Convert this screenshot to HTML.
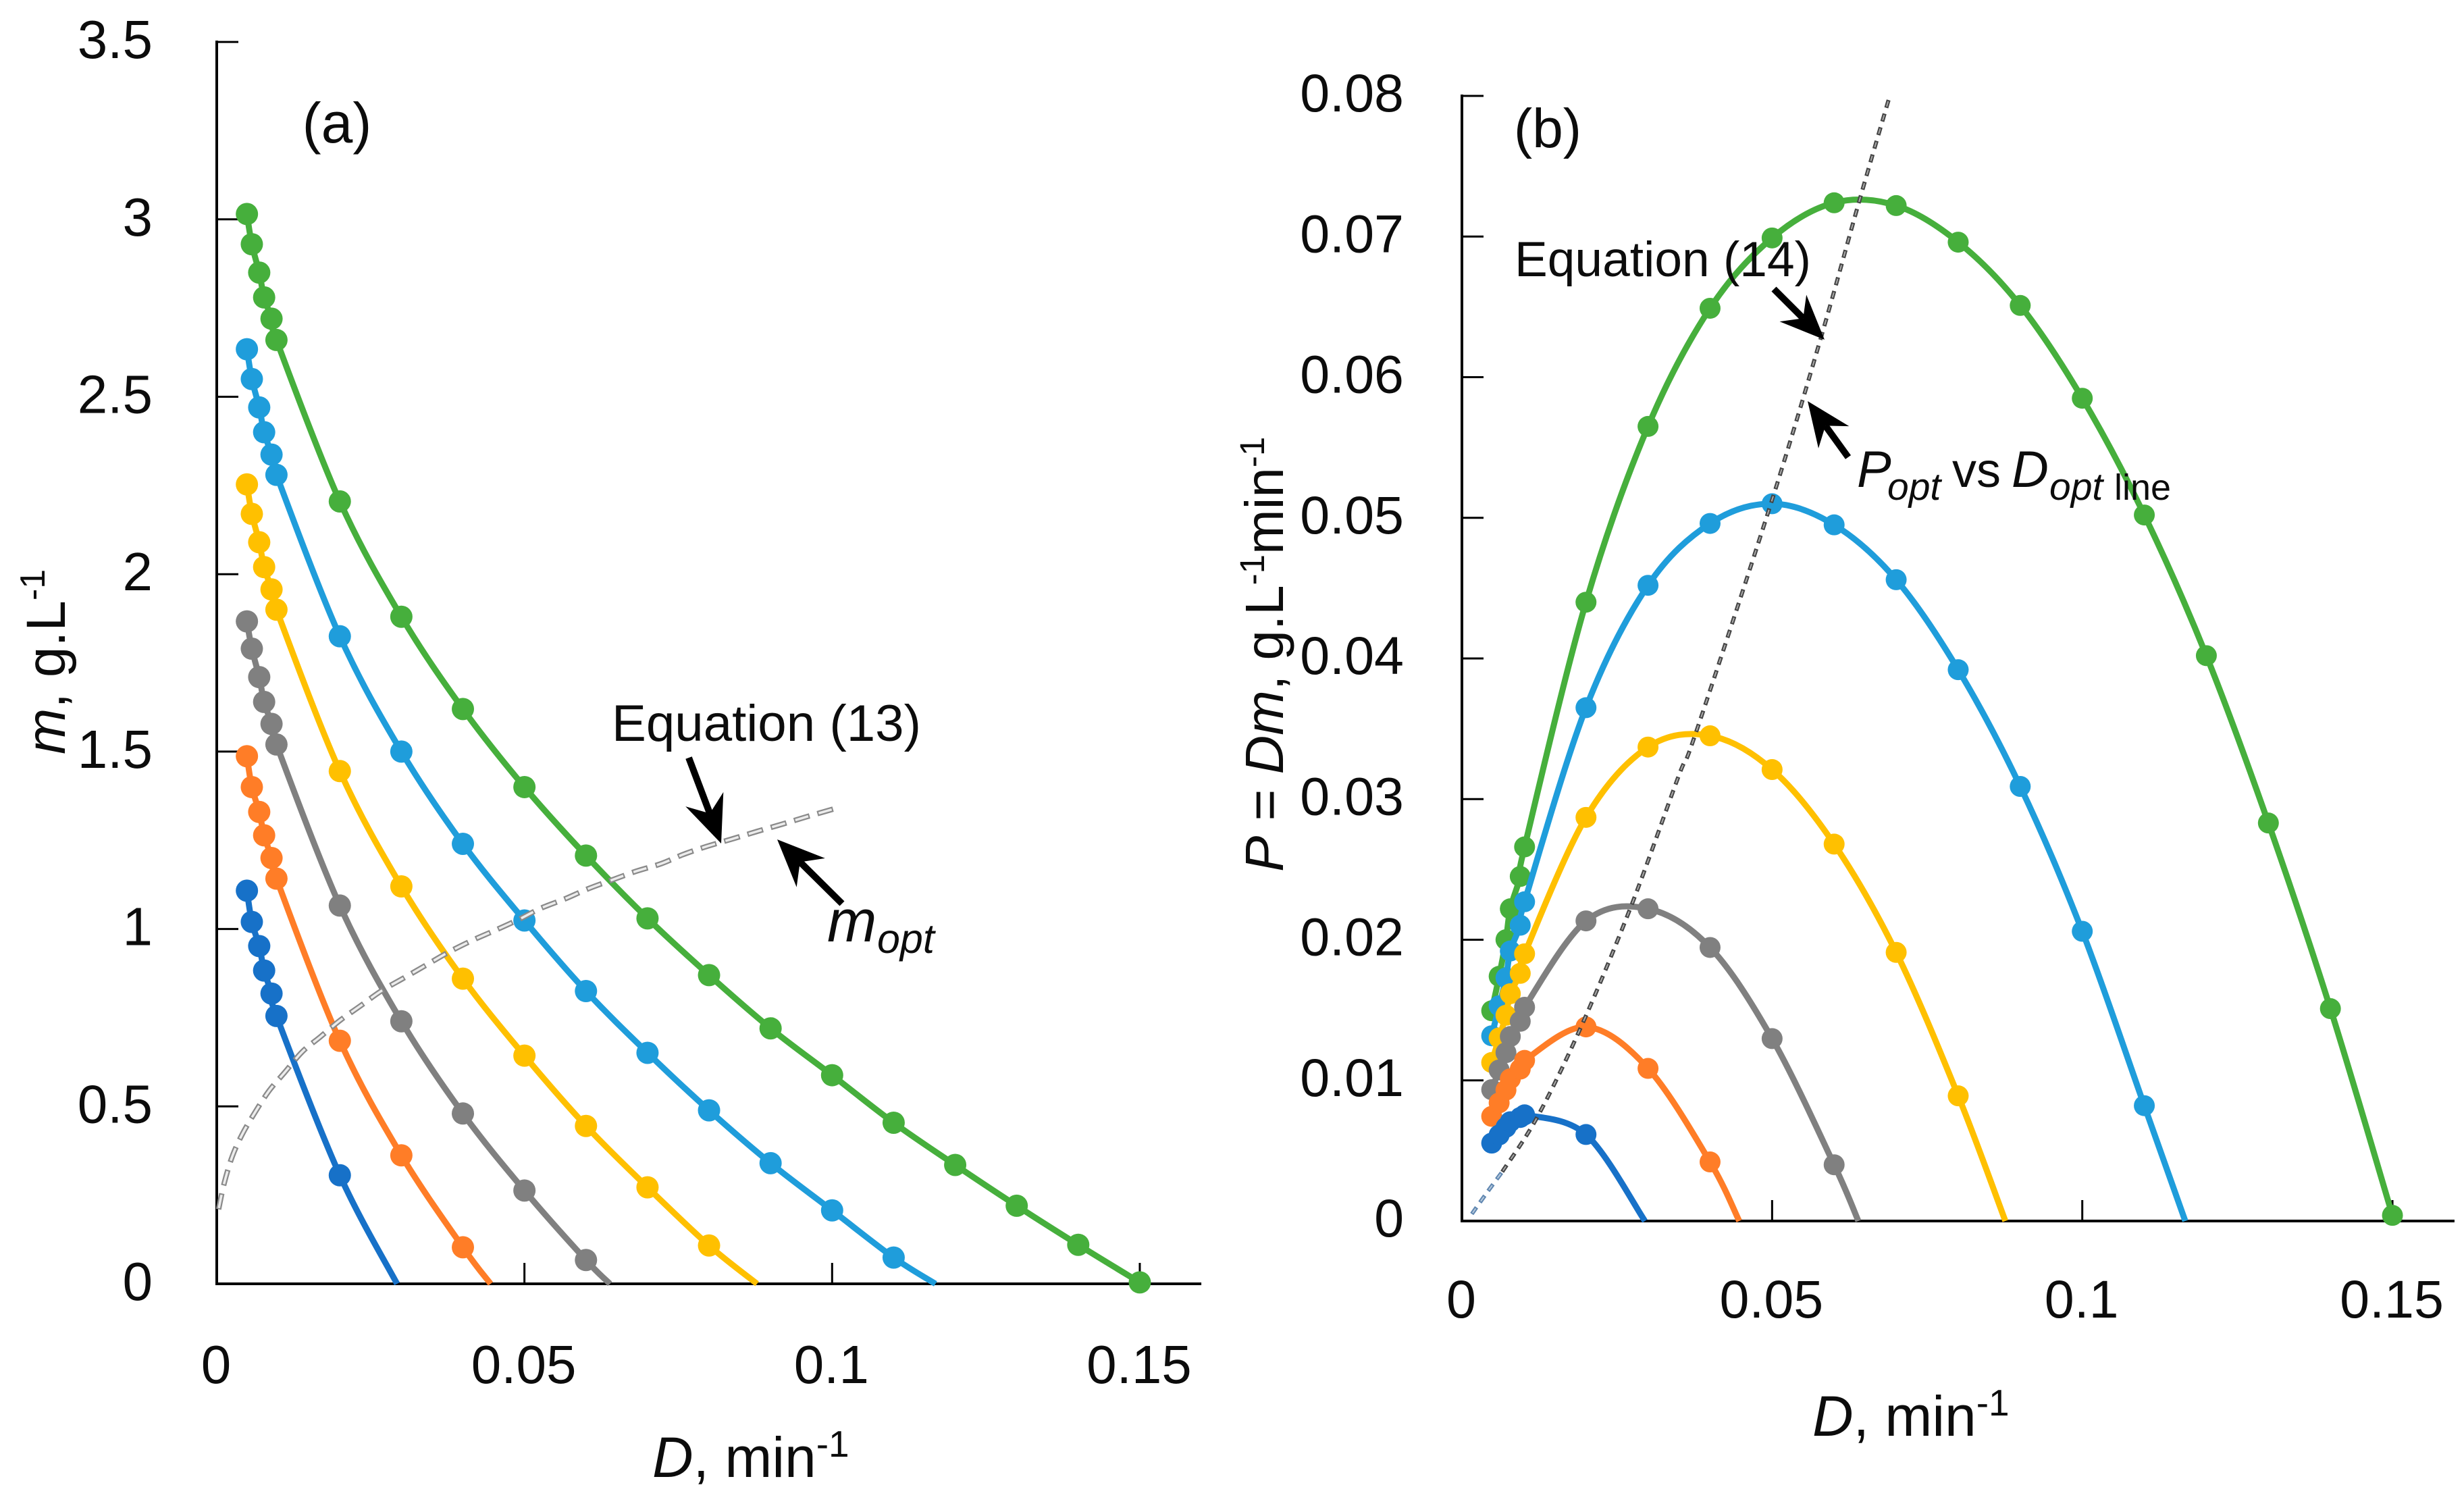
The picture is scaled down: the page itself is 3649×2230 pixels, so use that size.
<!DOCTYPE html>
<html lang="en">
<head>
<meta charset="utf-8">
<title>Productivity and biomass vs dilution rate</title>
<style>
html,body{margin:0;padding:0;background:#fff;}
svg{display:block;}
text{font-family:"Liberation Sans",sans-serif;fill:#0c0c0c;}
</style>
</head>
<body>
<svg id="chart" xmlns="http://www.w3.org/2000/svg" width="3649" height="2230" viewBox="0 0 3649 2230">
  <rect width="3649" height="2230" fill="#fff"/>
  <g id="panelA"></g>
  <g id="panelB"></g>

  <text x="499" y="211" font-size="84" text-anchor="middle">(a)</text>
  <text x="906" y="1097" font-size="76" textLength="458" lengthAdjust="spacingAndGlyphs">Equation (13)</text>
  <text x="1225" y="1394" font-size="88" font-style="italic">m<tspan x="1299" y="1411" font-size="61">opt</tspan></text>
  <text x="966" y="2187" font-size="84"><tspan font-style="italic">D</tspan>, min<tspan font-size="55" dy="-30">-1</tspan></text>
  <text transform="translate(96,1117) rotate(-90)" font-size="82"><tspan font-style="italic">m</tspan>, g.L<tspan font-size="52" dy="-30">-1</tspan></text>

  <text x="2292" y="218" font-size="82" text-anchor="middle">(b)</text>
  <text x="2243" y="409" font-size="73" textLength="439" lengthAdjust="spacingAndGlyphs">Equation (14)</text>
  <text y="721" font-size="76"><tspan x="2750" font-style="italic">P</tspan><tspan x="2795" y="740" font-size="57" font-style="italic">opt</tspan><tspan x="2891" y="721" font-size="72">vs</tspan><tspan x="2979" y="721" font-style="italic">D</tspan><tspan x="3035" y="740" font-size="57" font-style="italic">opt</tspan><tspan x="3131" y="740" font-size="54">line</tspan></text>
  <text x="2684" y="2126" font-size="84"><tspan font-style="italic">D</tspan>, min<tspan font-size="55" dy="-30">-1</tspan></text>
  <text transform="translate(1900,1291) rotate(-90)" font-size="80"><tspan font-style="italic">P</tspan> = <tspan font-style="italic">Dm</tspan>, g.L<tspan font-size="51" dy="-28">-1</tspan><tspan dy="28">min</tspan><tspan font-size="51" dy="-28">-1</tspan></text>
</svg>

<script>
// ---------- Panel (a): biomass m vs D ----------
const aXTickLabels = ["0", "0.05", "0.1", "0.15"];
const aYTickLabels = ["0", "0.5", "1", "1.5", "2", "2.5", "3", "3.5"];
const aLowD = [0.0049, 0.0057, 0.0069, 0.0077, 0.0089, 0.0097];
const aHighD = [0.02, 0.03, 0.04, 0.05, 0.06, 0.07, 0.08, 0.09, 0.10, 0.11, 0.12, 0.13, 0.14, 0.15];

const mGreen = [3.015, 2.93, 2.85, 2.78, 2.72, 2.66, 2.205, 1.88, 1.62, 1.40, 1.207, 1.03, 0.87, 0.72, 0.588, 0.454, 0.335, 0.22, 0.11, 0.004];
const mSky = [2.634, 2.55, 2.47, 2.40, 2.337, 2.28, 1.825, 1.50, 1.24, 1.024, 0.825, 0.651, 0.489, 0.34, 0.207, 0.074];
const mYellow = [2.253, 2.17, 2.09, 2.02, 1.957, 1.90, 1.445, 1.12, 0.86, 0.643, 0.445, 0.272, 0.108];
const mGray = [1.867, 1.79, 1.71, 1.64, 1.578, 1.52, 1.066, 0.74, 0.48, 0.263, 0.067];
const mOrange = [1.487, 1.40, 1.33, 1.264, 1.20, 1.142, 0.685, 0.362, 0.103];
const mBlue = [1.108, 1.02, 0.952, 0.883, 0.818, 0.755, 0.306];

const mOptD = [0.0003, 0.0012, 0.0025, 0.0041, 0.0061, 0.0085, 0.011, 0.0139, 0.0169, 0.02, 0.0234, 0.0267, 0.0304, 0.034, 0.0375, 0.0414, 0.0452, 0.0491, 0.0526, 0.0566, 0.0603, 0.0642, 0.0682, 0.0722, 0.0758, 0.0795, 0.0838, 0.0878, 0.0918, 0.0958, 0.1010];
const mOptValues = [0.21, 0.283, 0.358, 0.42, 0.48, 0.544, 0.595, 0.654, 0.697, 0.742, 0.784, 0.825, 0.862, 0.898, 0.933, 0.967, 0.996, 1.027, 1.058, 1.085, 1.113, 1.138, 1.163, 1.184, 1.21, 1.232, 1.254, 1.275, 1.295, 1.316, 1.342];

// ---------- Panel (b): productivity P vs D ----------
const bXTickLabels = ["0", "0.05", "0.1", "0.15"];
const bYTickLabels = ["0", "0.01", "0.02", "0.03", "0.04", "0.05", "0.06", "0.07", "0.08"];
const bLowD = [0.0048, 0.006, 0.0071, 0.0078, 0.0094, 0.0101];
const bHighD = [0.02, 0.03, 0.04, 0.05, 0.06, 0.07, 0.08, 0.09, 0.10, 0.11, 0.12, 0.13, 0.14, 0.15];

const pGreen = [0.01495, 0.0174, 0.0200, 0.0222, 0.0245, 0.0266, 0.0440, 0.0565, 0.0649, 0.0699, 0.0724, 0.0722, 0.0696, 0.0651, 0.0585, 0.0502, 0.0402, 0.0283, 0.0151, 0.0004];
const pSky = [0.01317, 0.0153, 0.01729, 0.0192, 0.02103, 0.0227, 0.0365, 0.0452, 0.0496, 0.0510, 0.0495, 0.0456, 0.0392, 0.0309, 0.0206, 0.0082];
const pYellow = [0.01127, 0.01302, 0.01463, 0.01616, 0.01761, 0.0190, 0.0287, 0.0337, 0.0345, 0.0321, 0.0268, 0.0191, 0.0089];
const pGray = [0.00934, 0.01074, 0.01197, 0.01312, 0.0142, 0.0152, 0.02134, 0.0222, 0.01945, 0.01297, 0.0040];
const pOrange = [0.00744, 0.0084, 0.00931, 0.01011, 0.0108, 0.01142, 0.0138, 0.01085, 0.0042];
const pBlue = [0.00554, 0.00612, 0.00666, 0.00706, 0.00736, 0.00755, 0.00615];

const pOptD = [0.0065, 0.01216, 0.0192, 0.0272, 0.0349, 0.0377, 0.0498, 0.0578, 0.0641, 0.0689];
const pOptValues = [0.0035, 0.0074, 0.0138, 0.0223, 0.0316, 0.0347, 0.0510, 0.0627, 0.0726, 0.0799];
const pOptLowD = [0.0016, 0.004, 0.0065];
const pOptLowValues = [0.0005, 0.002, 0.0035];

// Where each curve that ends between markers meets the x-axis
const crossingA = { sky: 0.1168, yellow: 0.0878, gray: 0.0639, orange: 0.0445, blue: 0.0293 };
const crossingB = { sky: 0.1166, yellow: 0.0876, gray: 0.0639, orange: 0.0447, blue: 0.0295 };

// Series colours
const colours = { green: "#46AF3C", sky: "#1F9DDB", yellow: "#FFC000", gray: "#808080", orange: "#FF7D27", blue: "#1771C8" };

// ---------- Axis functions ----------
function axA_x(d) { return 321 + d * 9113; }
function axA_y(v) { return 1901 - v * 525.4; }
function axB_x(d) { return 2165 + d * 9187; }
function axB_y(v) { return 1808 - v * 20825; }

const NS = "http://www.w3.org/2000/svg";
function mk(parent, tag, attrs) {
  const el = document.createElementNS(NS, tag);
  for (const k in attrs) el.setAttribute(k, attrs[k]);
  parent.appendChild(el);
  return el;
}

function smoothPath(pts) {
  let d = "M" + pts[0][0].toFixed(2) + " " + pts[0][1].toFixed(2);
  for (let i = 0; i < pts.length - 1; i++) {
    const p0 = pts[Math.max(i - 1, 0)], p1 = pts[i], p2 = pts[i + 1], p3 = pts[Math.min(i + 2, pts.length - 1)];
    const c1x = p1[0] + (p2[0] - p0[0]) / 6, c1y = p1[1] + (p2[1] - p0[1]) / 6;
    const c2x = p2[0] - (p3[0] - p1[0]) / 6, c2y = p2[1] - (p3[1] - p1[1]) / 6;
    d += "C" + c1x.toFixed(2) + " " + c1y.toFixed(2) + " " + c2x.toFixed(2) + " " + c2y.toFixed(2) + " " + p2[0].toFixed(2) + " " + p2[1].toFixed(2);
  }
  return d;
}

function drawAxes(g, fx, fy, xLabels, yLabels, xMax, yTop, xBaseline, yLabelRight, yOffset, fontSize) {
  const axisY = mk(g, "line", { x1: fx(0), x2: fx(0), y1: fy(yTop) - 2, y2: fy(0) + 2, stroke: "#000", "stroke-width": 4 });
  
  
  const axisX = mk(g, "line", { x1: fx(0) - 2, x2: fx(xMax), y1: fy(0), y2: fy(0), stroke: "#000", "stroke-width": 4 });
  
  
  yLabels.forEach(function (lab) {
    const v = Number(lab);
    if (v > 0) {
      const t = mk(g, "line", { x1: fx(0), x2: fx(0) + 32, y1: fy(v), y2: fy(v), stroke: "#000", "stroke-width": 3 });
      
      
    }
    const tx = mk(g, "text", { x: yLabelRight, y: fy(v) + yOffset, "font-size": fontSize, "text-anchor": "end" });
    tx.textContent = lab;
    
    
  });
  xLabels.forEach(function (lab) {
    const v = Number(lab);
    if (v > 0) {
      const t = mk(g, "line", { x1: fx(v), x2: fx(v), y1: fy(0), y2: fy(0) - 31, stroke: "#000", "stroke-width": 3 });
      
      
    }
    const tx = mk(g, "text", { x: fx(v) - 1, y: xBaseline, "font-size": fontSize, "text-anchor": "middle" });
    tx.textContent = lab;
    
    
  });
}

function drawSeries(g, name, vals, lowD, highD, crossD, colour, fx, fy, r) {
  const ds = lowD.concat(highD).slice(0, vals.length);
  const pts = vals.map(function (v, i) { return [fx(ds[i]), fy(v)]; });
  const linePts = pts.slice();
  if (crossD !== undefined) linePts.push([fx(crossD), fy(0)]);
  const s = mk(g, "g", {});
  
  
  const l = mk(s, "path", { d: smoothPath(linePts), fill: "none", stroke: colour, "stroke-width": 9 });
  
  
  pts.forEach(function (p) {
    const c = mk(s, "circle", { cx: p[0], cy: p[1], r: r, fill: colour });
    
    
  });
}

function drawHollowDash(g, name, ds, vs, fx, fy, outer, inner, w, iw, dash, gap) {
  const pts = ds.map(function (d, i) { return [fx(d), fy(vs[i])]; });
  const path = smoothPath(pts);
  const a = mk(g, "path", { d: path, fill: "none", stroke: outer, "stroke-width": w, "stroke-dasharray": dash + " " + gap });
  
  
  const b = mk(g, "path", { d: path, fill: "none", stroke: inner, "stroke-width": iw, "stroke-dasharray": (dash - 4) + " " + (gap + 4), "stroke-dashoffset": -2 });
  
  
}

function drawArrow(g, name, x1, y1, x2, y2, headLen, headW, sw) {
  const dx = x2 - x1, dy = y2 - y1, L = Math.hypot(dx, dy), ux = dx / L, uy = dy / L, nx = -uy, ny = ux;
  const bx = x2 - ux * headLen, by = y2 - uy * headLen;
  const nk = x2 - ux * headLen * 0.68, nky = y2 - uy * headLen * 0.68;
  const a = mk(g, "g", {});
  
  
  mk(a, "line", { x1: x1, y1: y1, x2: nk, y2: nky, stroke: "#000", "stroke-width": sw });
  const head = [[x2, y2], [bx + nx * headW / 2, by + ny * headW / 2], [nk, nky], [bx - nx * headW / 2, by - ny * headW / 2]];
  mk(a, "polygon", { points: head.map(function (p) { return p[0].toFixed(1) + "," + p[1].toFixed(1); }).join(" "), fill: "#000" });
}

// ---------- Render panel (a) ----------
const gA = document.getElementById("panelA");
drawAxes(gA, axA_x, axA_y, aXTickLabels, aYTickLabels, 0.16, 3.5, 2048, 226, 24, 80);
drawSeries(gA, "green", mGreen, aLowD, aHighD, undefined, colours.green, axA_x, axA_y, 16.5);
drawSeries(gA, "sky-blue", mSky, aLowD, aHighD, crossingA.sky, colours.sky, axA_x, axA_y, 16.5);
drawSeries(gA, "yellow", mYellow, aLowD, aHighD, crossingA.yellow, colours.yellow, axA_x, axA_y, 16.5);
drawSeries(gA, "gray", mGray, aLowD, aHighD, crossingA.gray, colours.gray, axA_x, axA_y, 16.5);
drawSeries(gA, "orange", mOrange, aLowD, aHighD, crossingA.orange, colours.orange, axA_x, axA_y, 16.5);
drawSeries(gA, "dark-blue", mBlue, aLowD, aHighD, crossingA.blue, colours.blue, axA_x, axA_y, 16.5);
drawHollowDash(gA, "m-opt-dashed-line", mOptD, mOptValues, axA_x, axA_y, "#8a8a8a", "#ececec", 8, 3.5, 24, 12);
drawArrow(gA, "equation-13-arrow", 1020, 1122, 1068, 1249, 70, 60, 10);
drawArrow(gA, "m-opt-arrow", 1247, 1338, 1151, 1243, 70, 60, 10);

// ---------- Render panel (b) ----------
const gB = document.getElementById("panelB");
drawAxes(gB, axB_x, axB_y, bXTickLabels, bYTickLabels, 0.16, 0.08, 1951, 2079, 23, 79);
drawSeries(gB, "green", pGreen, bLowD, bHighD, undefined, colours.green, axB_x, axB_y, 15.5);
drawSeries(gB, "sky-blue", pSky, bLowD, bHighD, crossingB.sky, colours.sky, axB_x, axB_y, 15.5);
drawSeries(gB, "yellow", pYellow, bLowD, bHighD, crossingB.yellow, colours.yellow, axB_x, axB_y, 15.5);
drawSeries(gB, "gray", pGray, bLowD, bHighD, crossingB.gray, colours.gray, axB_x, axB_y, 15.5);
drawSeries(gB, "orange", pOrange, bLowD, bHighD, crossingB.orange, colours.orange, axB_x, axB_y, 15.5);
drawSeries(gB, "dark-blue", pBlue, bLowD, bHighD, crossingB.blue, colours.blue, axB_x, axB_y, 15.5);
drawHollowDash(gB, "p-opt-dashed-line", pOptD, pOptValues, axB_x, axB_y, "#444", "#a8a8a8", 6, 2, 12, 9);
drawHollowDash(gB, "p-opt-dashed-line-low", pOptLowD, pOptLowValues, axB_x, axB_y, "#5f86b0", "#b4c8dc", 6, 2, 12, 9);
drawArrow(gB, "equation-14-arrow", 2627, 428, 2702, 503, 66, 56, 10);
drawArrow(gB, "p-opt-arrow", 2737, 677, 2677, 594, 66, 56, 10);
</script>
</body>
</html>
